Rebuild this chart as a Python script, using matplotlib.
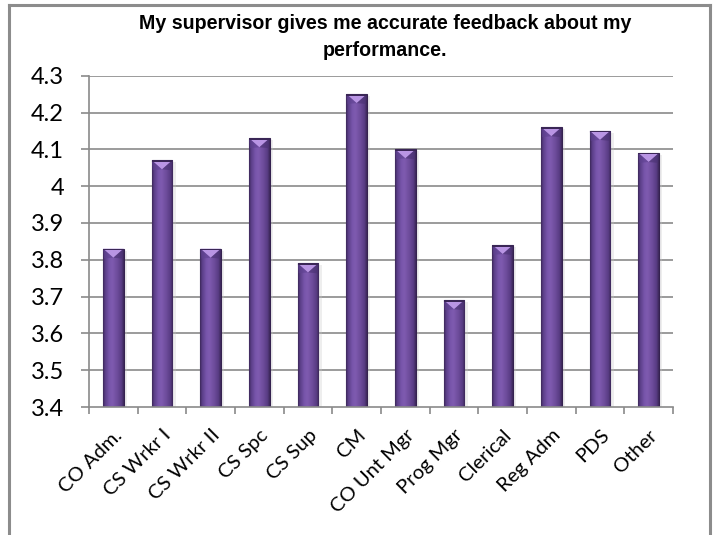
import numpy as np
import matplotlib
matplotlib.use("Agg")
import matplotlib.pyplot as plt
from matplotlib.colors import LinearSegmentedColormap
from matplotlib.patches import Polygon, Rectangle
from matplotlib.lines import Line2D
import matplotlib.transforms as mtransforms

categories = ["CO Adm.", "CS Wrkr I", "CS Wrkr II", "CS Spc", "CS Sup", "CM",
              "CO Unt Mgr", "Prog Mgr", "Clerical", "Reg Adm", "PDS", "Other"]
scores = [3.83, 4.07, 3.83, 4.13, 3.79, 4.25, 4.10, 3.69, 3.84, 4.16, 4.15, 4.09]
y_ticks = [3.4, 3.5, 3.6, 3.7, 3.8, 3.9, 4.0, 4.1, 4.2, 4.3]
y_tick_labels = ["3.4", "3.5", "3.6", "3.7", "3.8", "3.9", "4", "4.1", "4.2", "4.3"]
title = "My supervisor gives me accurate feedback about my\nperformance."

W, H, DPI = 713, 535, 100
fig = plt.figure(figsize=(W / DPI, H / DPI), dpi=DPI)
fig.patch.set_facecolor("white")

ax = fig.add_axes([89 / W, 1 - 407 / H, (673 - 89) / W, (407 - 75.7) / H])
ymin, ymax = y_ticks[0], y_ticks[-1]
ax.set_ylim(ymin, ymax)
n = len(categories)
x = np.arange(n)
ax.set_xlim(-0.5, n - 0.5)

grid_col = "#8a8a8a"
for t in y_ticks[1:]:
    ax.axhline(t, color=grid_col, lw=1.2, zorder=1)

bar_w = 0.42
base = np.full(n, ymin)
heights = np.array(scores) - ymin

# soft drop shadow behind each bar
shadow_tr = mtransforms.offset_copy(ax.transData, fig=fig, x=3, y=-2, units="dots")
ax.bar(x, heights, width=bar_w + 0.02, bottom=base, color="#c8c8c8", alpha=0.3,
       transform=shadow_tr, zorder=2, linewidth=0)

bars = ax.bar(x, heights, width=bar_w, bottom=base, color="#6c4a9c",
              edgecolor="#35224f", linewidth=0.8, zorder=3)

cyl = LinearSegmentedColormap.from_list("cyl", [
    (0.0, "#3a2656"), (0.08, "#583c84"), (0.3, "#7855ab"), (0.45, "#7f5bb0"),
    (0.7, "#6c4b9a"), (0.9, "#573b82"), (1.0, "#3a2656")])
grad = np.linspace(0, 1, 64).reshape(1, -1)

dy_px = (407 - 75.7) / (ymax - ymin)
for rect, v in zip(bars, scores):
    x0 = rect.get_x()
    x1 = x0 + rect.get_width()
    im = ax.imshow(grad, extent=[x0, x1, ymin, v], aspect="auto", cmap=cyl,
                   zorder=3.5, interpolation="bicubic")
    im.set_clip_path(rect)
    d = 9 / dy_px
    xc = (x0 + x1) / 2
    ax.add_patch(Polygon([(x0, v), (x1, v), (xc, v - d)], closed=True,
                         facecolor="#b995e4", edgecolor="none", zorder=4))
    ax.add_patch(Polygon([(x0, v), (xc, v - d), (x0 + 0.02, v - d * 1.1)],
                         closed=True, facecolor="#5e4190", edgecolor="none",
                         alpha=0.6, zorder=4))
    ax.add_patch(Polygon([(x1, v), (xc, v - d), (x1 - 0.02, v - d * 1.1)],
                         closed=True, facecolor="#4a3272", edgecolor="none",
                         alpha=0.6, zorder=4))
    ax.add_patch(Rectangle((x0, v), x1 - x0, -0.004, facecolor="#3a2656",
                           edgecolor="none", zorder=4.2))

for side in ["top", "right"]:
    ax.spines[side].set_visible(False)
for side in ["left", "bottom"]:
    ax.spines[side].set_color(grid_col)
    ax.spines[side].set_linewidth(1.2)
    ax.spines[side].set_zorder(5)

ax.set_yticks(y_ticks)
ax.set_yticklabels(y_tick_labels, fontfamily="Lato", fontsize=17, color="black")
ax.tick_params(axis="y", length=6, width=1.2, color=grid_col, pad=12)

ax.set_xticks(x)
ax.set_xticklabels(categories, rotation=45, ha="right", va="top",
                   rotation_mode="anchor", fontfamily="Lato", fontsize=14.5)
ax.tick_params(axis="x", which="major", length=0, pad=14)
ax.set_xticks(np.arange(n + 1) - 0.5, minor=True)
ax.tick_params(axis="x", which="minor", length=5, width=1.2, color=grid_col)

fig.text(385 / W, 1 - 14 / H, title, ha="center", va="top",
         fontsize=14.1, fontweight="bold",
         fontfamily=["Liberation Sans Narrow", "Liberation Sans"],
         linespacing=1.5)

# chart frame
frame_col = "#8c8c8c"
fig.add_artist(Line2D([9 / W, 9 / W], [0, 1 - 5 / H], color=frame_col, lw=2.2,
                      transform=fig.transFigure))
fig.add_artist(Line2D([9 / W, 709.5 / W], [1 - 5 / H, 1 - 5 / H], color=frame_col,
                      lw=2.2, transform=fig.transFigure))
fig.add_artist(Line2D([709.5 / W, 709.5 / W], [0, 1 - 5 / H], color=frame_col,
                      lw=2.2, transform=fig.transFigure))

fig.savefig("out.png", dpi=DPI)
